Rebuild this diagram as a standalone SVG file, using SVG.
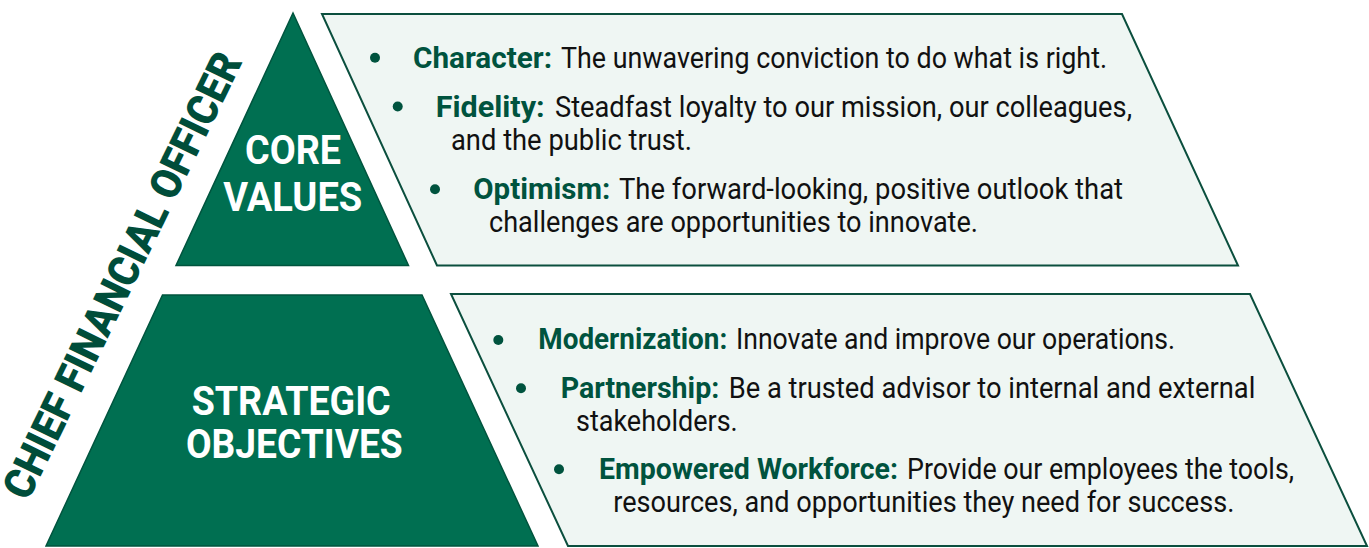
<svg xmlns="http://www.w3.org/2000/svg" width="1369" height="548" viewBox="0 0 1369 548">
<style>
.tri{fill:#006F51;stroke:#00543E;stroke-width:1.5}
.box{fill:#EFF6F3;stroke:#0B4F3E;stroke-width:2}
.lbl{font-family:"Liberation Sans Narrow","Roboto","Liberation Sans",sans-serif;font-weight:bold;fill:#FFFFFF}
.b{font-family:"Liberation Sans Narrow","Roboto","Liberation Sans",sans-serif;font-weight:bold;font-size:30px;fill:#00533E}
.t{font-family:"Liberation Sans Narrow","Roboto","Liberation Sans",sans-serif;font-size:30px;fill:#111111}
.dot{fill:#00533E}
.side{font-family:"Liberation Sans Narrow","Roboto","Liberation Sans",sans-serif;font-weight:900;font-size:43px;fill:#004D3A}
</style>
<rect width="1369" height="548" fill="#FFFFFF"/>
<g id="side-title">
<text class="side" transform="translate(28,502) rotate(-64)" x="0" y="0" textLength="490" lengthAdjust="spacingAndGlyphs">CHIEF FINANCIAL OFFICER</text>
</g>
<g id="core-values">
<polygon class="tri" points="293,13 408.5,265.5 176,265.5"/>
<text class="lbl" font-size="40" x="245" y="164.3" textLength="96" lengthAdjust="spacingAndGlyphs">CORE</text>
<text class="lbl" font-size="40" x="223.3" y="210.7" textLength="139" lengthAdjust="spacingAndGlyphs">VALUES</text>
</g>
<g id="strategic-objectives">
<polygon class="tri" points="162.5,295 422,295 538,546 46,546"/>
<text class="lbl" font-size="41" x="191.7" y="415" textLength="199" lengthAdjust="spacingAndGlyphs">STRATEGIC</text>
<text class="lbl" font-size="41" x="186" y="457.7" textLength="216.7" lengthAdjust="spacingAndGlyphs">OBJECTIVES</text>
</g>
<g id="core-values-list">
<polygon class="box" points="322,14 1122,14 1238,265.5 437,265.5"/>
<circle class="dot" cx="375" cy="57.7" r="5"/>
<text class="b" x="413" y="68" textLength="139" lengthAdjust="spacingAndGlyphs">Character:</text>
<text class="t" x="561" y="68" textLength="546" lengthAdjust="spacingAndGlyphs">The unwavering conviction to do what is right.</text>
<circle class="dot" cx="397.7" cy="106.5" r="5"/>
<text class="b" x="435.7" y="117" textLength="109" lengthAdjust="spacingAndGlyphs">Fidelity:</text>
<text class="t" x="555" y="117" textLength="577" lengthAdjust="spacingAndGlyphs">Steadfast loyalty to our mission, our colleagues,</text>
<text class="t" x="451" y="150" textLength="241" lengthAdjust="spacingAndGlyphs">and the public trust.</text>
<circle class="dot" cx="435" cy="189.3" r="5"/>
<text class="b" x="473.3" y="198.5" textLength="137" lengthAdjust="spacingAndGlyphs">Optimism:</text>
<text class="t" x="619" y="198.5" textLength="504" lengthAdjust="spacingAndGlyphs">The forward-looking, positive outlook that</text>
<text class="t" x="489" y="231.5" textLength="489" lengthAdjust="spacingAndGlyphs">challenges are opportunities to innovate.</text>
</g>
<g id="strategic-objectives-list">
<polygon class="box" points="451,294 1250,294 1367,546 568,546"/>
<circle class="dot" cx="498.3" cy="340" r="5"/>
<text class="b" x="538.3" y="349" textLength="189" lengthAdjust="spacingAndGlyphs">Modernization:</text>
<text class="t" x="736" y="349" textLength="439" lengthAdjust="spacingAndGlyphs">Innovate and improve our operations.</text>
<circle class="dot" cx="521" cy="388.3" r="5"/>
<text class="b" x="560.7" y="398" textLength="158.6" lengthAdjust="spacingAndGlyphs">Partnership:</text>
<text class="t" x="728.7" y="398" textLength="526.6" lengthAdjust="spacingAndGlyphs">Be a trusted advisor to internal and external</text>
<text class="t" x="576" y="431" textLength="161.7" lengthAdjust="spacingAndGlyphs">stakeholders.</text>
<circle class="dot" cx="559" cy="469.3" r="5"/>
<text class="b" x="599" y="479" textLength="299" lengthAdjust="spacingAndGlyphs">Empowered Workforce:</text>
<text class="t" x="907" y="479" textLength="387" lengthAdjust="spacingAndGlyphs">Provide our employees the tools,</text>
<text class="t" x="613.3" y="512" textLength="621" lengthAdjust="spacingAndGlyphs">resources, and opportunities they need for success.</text>
</g>
<g id="connectors"></g>
</svg>
